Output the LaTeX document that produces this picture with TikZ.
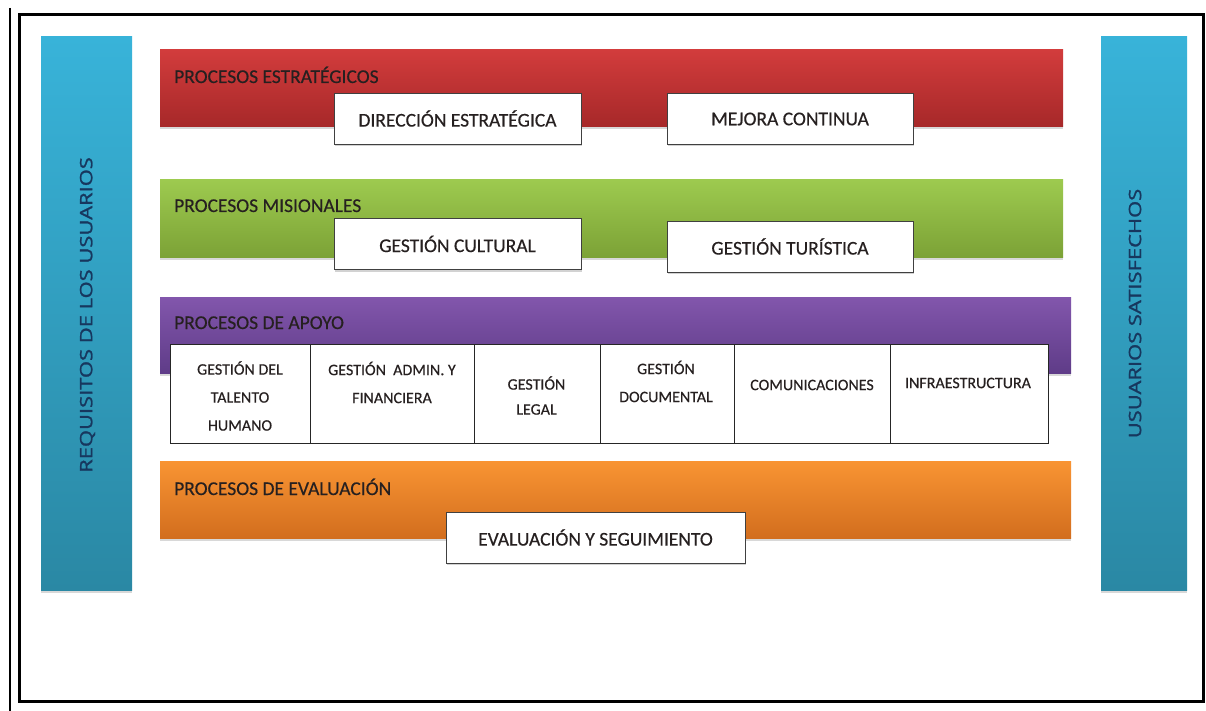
\documentclass[tikz,border=0pt]{standalone}
\usepackage{fontspec}
\setmainfont{Carlito}
\newfontfamily\osans[FakeBold=1.3]{Open Sans}
\newfontfamily\carl[FakeBold=0.4]{Carlito}
\usetikzlibrary{shadows}
\definecolor{redT}{HTML}{D23C3C}
\definecolor{redB}{HTML}{A62829}
\definecolor{greenT}{HTML}{9DCA4F}
\definecolor{greenB}{HTML}{7CA236}
\definecolor{purT}{HTML}{8256AC}
\definecolor{purB}{HTML}{5F3C88}
\definecolor{oraT}{HTML}{F99433}
\definecolor{oraB}{HTML}{D26E1E}
\definecolor{bluT}{HTML}{38B3D9}
\definecolor{bluB}{HTML}{2A88A4}
\definecolor{navy}{HTML}{17375E}
\definecolor{ink}{HTML}{262020}
\tikzset{
  band/.style={inner sep=0pt, outer sep=0pt, draw=none,
    drop shadow={shadow xshift=0pt, shadow yshift=-2.5pt, opacity=0.3}},
  sidebar/.style={inner sep=0pt, outer sep=0pt, draw=none, top color=bluT, bottom color=bluB,
    drop shadow={shadow xshift=0pt, shadow yshift=-2.5pt, opacity=0.3}},
  bandlabel/.style={anchor=base west, inner sep=0pt, text=ink, font=\carl\fontsize{19.5}{24}\selectfont},
  procbox/.style={fill=white, draw=black!75, line width=0.9pt, inner sep=0pt,
    minimum height=51pt, text=ink, font=\carl\fontsize{19.5}{24}\selectfont,
    drop shadow={shadow xshift=1pt, shadow yshift=-2pt, opacity=0.35}},
  cell/.style={fill=white, draw=black!85, line width=0.9pt, inner sep=0pt, minimum height=99pt},
  celltext/.style={align=center, inner sep=0pt, text=ink, font=\carl\fontsize{16}{28}\selectfont},
  sidetext/.style={rotate=90, inner sep=0pt, text=navy, font=\osans\fontsize{17}{20}\selectfont}
}
\begin{document}
\begin{tikzpicture}[x=1pt,y=-1pt]
\useasboundingbox (0,0) rectangle (1206,711);
\fill[white] (0,0) rectangle (1206,711);

% outer frame
\draw[line width=3pt, black] (19,15) rectangle (1203,701);
\coordinate (lt) at (10,8);
\coordinate (lb) at (10,711);
\draw[line width=1.4pt, black] (lt) -- (lb);

% side bars
\node[sidebar, minimum width=91pt, minimum height=553pt] (req) at (86.5,313.5) {};
\node[sidetext] (reqt) at (87.5,315) {\scalebox{1.29}[1]{REQUISITOS DE LOS USUARIOS}};
\node[sidebar, minimum width=86pt, minimum height=553pt] (sat) at (1144,313.5) {};
\node[sidetext] (satt) at (1135,313.5) {\scalebox{1.29}[1]{USUARIOS SATISFECHOS}};

% bands
\node[band, top color=redT, bottom color=redB, minimum width=903pt, minimum height=77pt] (est) at (611.5,88.5) {};
\node[bandlabel] (estl) at (174,83) {PROCESOS ESTRATÉGICOS};
\node[band, top color=greenT, bottom color=greenB, minimum width=903pt, minimum height=77pt] (mis) at (611.5,218.5) {};
\node[bandlabel] (misl) at (174,212) {PROCESOS MISIONALES};
\node[band, top color=purT, bottom color=purB, minimum width=911pt, minimum height=76pt] (apo) at (615.5,335) {};
\node[bandlabel] (apol) at (174,329) {PROCESOS DE APOYO};
\node[band, top color=oraT, bottom color=oraB, minimum width=911pt, minimum height=77pt] (eva) at (615.5,499.5) {};
\node[bandlabel] (eval) at (174,495) {PROCESOS DE EVALUACIÓN};

% process boxes
\node[procbox, minimum width=247pt] (dir) at (457.5,118.5) {DIRECCIÓN ESTRATÉGICA};
\node[procbox, minimum width=246pt] (mej) at (790,119) {MEJORA CONTINUA};
\node[procbox, minimum width=247pt] (cul) at (457.5,244) {GESTIÓN CULTURAL};
\node[procbox, minimum width=246pt] (tur) at (790,246.5) {GESTIÓN TURÍSTICA};
\node[procbox, minimum width=299pt] (seg) at (595.5,537.5) {EVALUACIÓN Y SEGUIMIENTO};

% support table
\node[cell, minimum width=140.7pt] (c1) at (240.35,393.5) {};
\node[cell, minimum width=163.3pt] (c2) at (392.35,393.5) {};
\node[cell, minimum width=126pt] (c3) at (537,393.5) {};
\node[cell, minimum width=134pt] (c4) at (667,393.5) {};
\node[cell, minimum width=156.7pt] (c5) at (812.35,393.5) {};
\node[cell, minimum width=157.3pt] (c6) at (969.35,393.5) {};
\node[celltext] (t1) at (240,396) {GESTIÓN DEL\\TALENTO\\HUMANO};
\node[celltext] (t2) at (392,382.5) {GESTIÓN\ \ ADMIN. Y\\FINANCIERA};
\node[celltext, font=\carl\fontsize{16}{25}\selectfont] (t3) at (536.5,395.5) {GESTIÓN\\LEGAL};
\node[celltext] (t4) at (666,381.5) {GESTIÓN\\DOCUMENTAL};
\node[celltext] (t5) at (812,385) {COMUNICACIONES};
\node[celltext] (t6) at (968,383) {INFRAESTRUCTURA};
\end{tikzpicture}
\end{document}
